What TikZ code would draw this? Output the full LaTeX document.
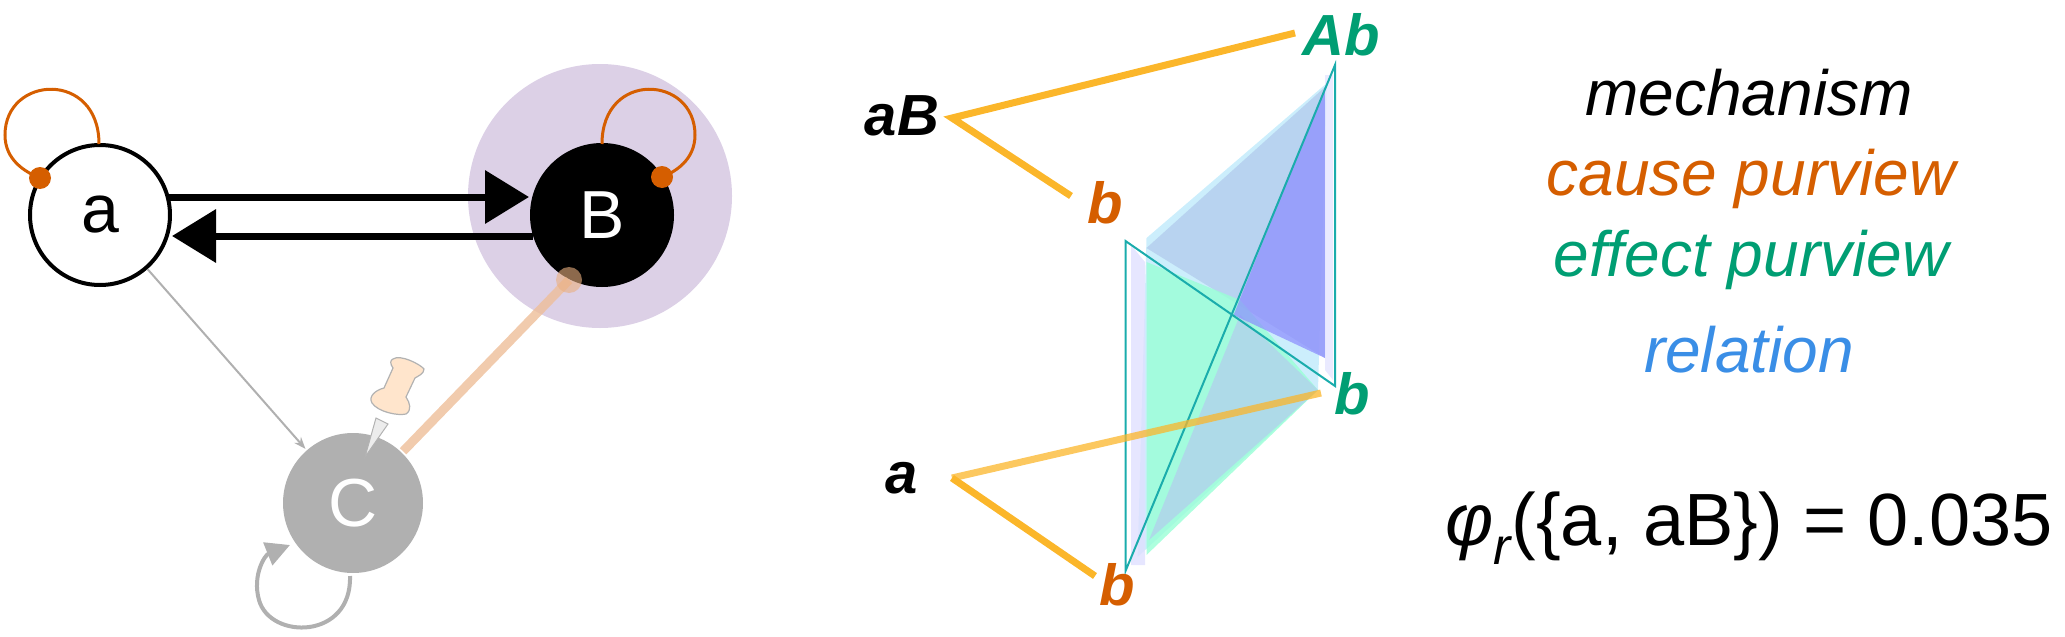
\documentclass[tikz,border=0pt]{standalone}
\usepackage{fontspec}
\setmainfont{Liberation Sans}
\usetikzlibrary{arrows.meta}
\definecolor{org}{HTML}{D55E00}
\definecolor{grn}{HTML}{009E73}
\definecolor{rel}{HTML}{3A8EE6}
\definecolor{yel}{HTML}{FBB62A}
\definecolor{teal}{HTML}{1AACAC}
\definecolor{purp}{HTML}{DCD0E6}
\definecolor{gry}{HTML}{B0B0B0}
\begin{document}
\begin{tikzpicture}[x=1pt,y=-1pt,
  unit/.style={circle,minimum size=140pt,inner sep=0pt,line width=4pt,font=\fontsize{68}{68}\selectfont},
  lbl/.style={font=\fontsize{58}{60}\selectfont\bfseries\itshape},
  leg/.style={font=\fontsize{64}{70}\selectfont\itshape},
  yl/.style={yel,line width=7pt},
  big/.style={line width=7pt,-{Triangle[length=44pt,width=52pt]}},
  oloop/.style={org,line width=3pt},
  dot/.style={circle,fill=org,inner sep=0pt,minimum size=22pt}]
\useasboundingbox (0,0) rectangle (2065,637);
% left network
\fill[purp] (600,196) circle (132);
\node[unit,draw=black,fill=white] (a) at (100,215) {a};
\node[unit,draw=black,fill=black,text=white] (B) at (602,215) {B};
\node[unit,fill=gry,text=white] (C) at (353,503) {C};
\draw[big] (169,197) -- (529,197);
\draw[big] (533,236) -- (172,236);
\draw[gry,line width=2pt,-{Stealth[length=12pt]}] (a) -- (C);
\draw[org!40,opacity=0.8,line width=9pt] (C) -- (569,280);
\node[circle,fill=org!50,opacity=0.6,minimum size=26pt,inner sep=0pt] (Bd) at (569,280) {};
% loops
\draw[oloop] (99,144) .. controls (99,70) and (5,75) .. (5,135) .. controls (5,160) and (25,172) .. (40,178);
\node[dot] (ad) at (40,178) {};
\draw[oloop] (602,144) .. controls (602,70) and (695,75) .. (695,135) .. controls (695,160) and (675,172) .. (662,177);
\node[dot] (Bdot) at (662,177) {};
\draw[gry,line width=4pt,-{Triangle[length=24pt,width=24pt]}] (350,576) .. controls (352,640) and (270,640) .. (259,600) .. controls (252,575) and (265,555) .. (290,545);
% push pin
\fill[gray!15,draw=gray!60,line width=1pt] (365,457) -- (376,418) -- (388,424) -- cycle;
\fill[orange!20,draw=gray!60,line width=1.2pt] (393,359) .. controls (400,354) and (420,364) .. (424,369) .. controls (424,374) and (418,376) .. (415,378) -- (406,397) .. controls (410,403) and (412,410) .. (406,414) .. controls (398,416) and (378,412) .. (372,403) .. controls (368,396) and (376,390) .. (384,388) -- (393,368) .. controls (390,364) and (390,360) .. (393,359) -- cycle;
% middle relation
\coordinate (T1) at (1125.5,241); \coordinate (T2) at (1125.5,571);
\coordinate (T3) at (1335,65); \coordinate (T4) at (1335,386);
\fill[cyan!25,opacity=0.8] (1146.5,238) -- (1327,83) -- (1318,390) -- (1137.6,557) -- cycle;
\fill[blue!12,opacity=0.8] (1131,245) -- (1131,565) -- (1145,565) -- (1145,262) -- cycle;
\fill[cyan!60!blue!30,opacity=0.8] (1146.5,248) -- (1325,87) -- (1325,358) -- cycle;
\fill[green!40!cyan!40,opacity=0.8] (1146.5,262) -- (1146.5,555) -- (1318,390) -- (1240,300) -- cycle;
\fill[cyan!60!blue!30,opacity=0.7] (1149,540) -- (1318,390) -- (1240,315) -- cycle;
\fill[blue!45,opacity=0.7] (1233.6,315) -- (1325,87) -- (1325,358) -- cycle;
\fill[blue!10,opacity=0.8] (1325,75) -- (1333,75) -- (1333,380) -- (1325,370) -- cycle;
\draw[teal,line width=2pt] (T1) -- (T2) -- (T3) -- (T4) -- cycle;
\node[lbl] (aB) at (902,116) {aB};
\node[lbl,text=org] (b1) at (1105,203) {b};
\node[lbl,text=grn] (Ab) at (1341,35) {Ab};
\node[lbl,text=grn] (b2) at (1352,394) {b};
\node[lbl] (a2) at (902,478) {a};
\node[lbl,text=org] (b3) at (1117,585) {b};
\coordinate (v1) at (952,118); \coordinate (v2) at (952,478);
\draw[yl] (1295,33) -- (v1) -- (1071,196);
\draw[yl] (1095,576) -- (v2);
\draw[yl,opacity=0.75] (v2) -- (1321,393);
% legend
\node[leg] (m) at (1749,93) {mechanism};
\node[leg,text=org] (cp) at (1751,179) {cause purview};
\node[leg,text=grn] (ep) at (1751,260) {effect purview};
\node[leg,text=rel] (rl) at (1749,350) {relation};
\node[font=\fontsize{74}{80}\selectfont] (f) at (1749,528) {{\itshape φ}\textsubscript{\itshape r}(\{a, aB\}) = 0.035};
\end{tikzpicture}
\end{document}
